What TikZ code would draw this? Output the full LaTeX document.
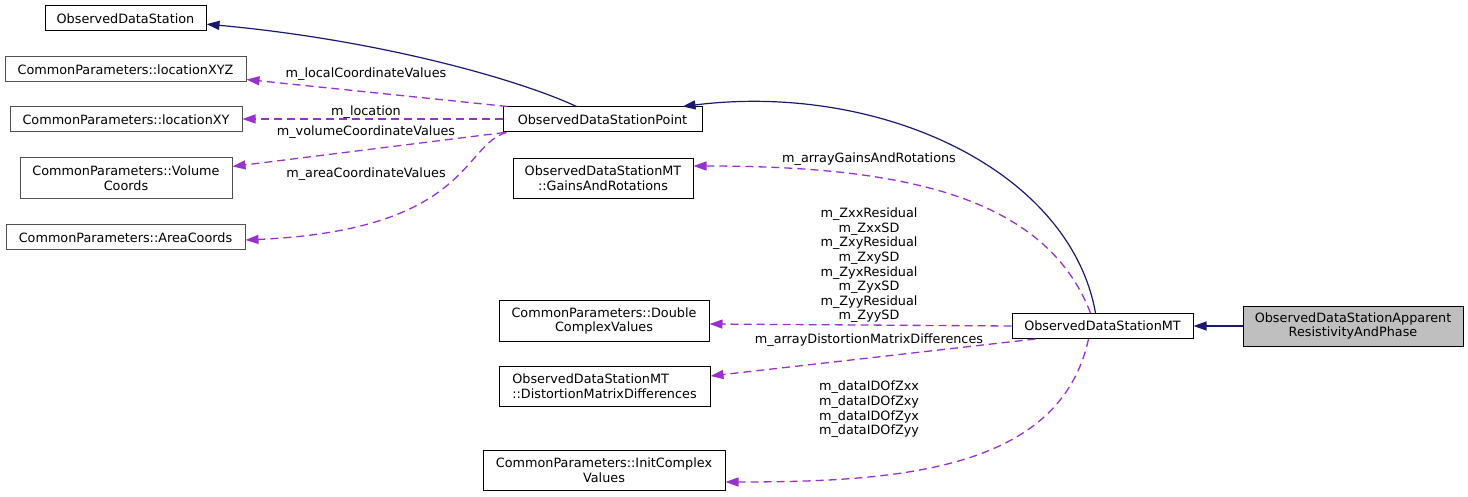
\documentclass[tikz,border=0pt]{standalone}
\usepackage{fontspec}
\setmainfont{DejaVu Sans}
\usepackage{xcolor}
\usepackage{tikz}
\usetikzlibrary{arrows.meta, positioning}
\definecolor{edgenavy}{RGB}{25,25,112}
\definecolor{edgeorchid}{RGB}{153,50,204}
\definecolor{boxgrey}{RGB}{191,191,191}
\definecolor{framegrey}{RGB}{80,80,80}
\newcommand{\graphfont}{\fontsize{12.8}{14.6}\selectfont}
\tikzset{
  cls/.style={rectangle, draw=black, fill=white, align=center,
    minimum height=25pt, inner sep=0pt, line width=1pt, font=\graphfont},
  ext/.style={cls, draw=framegrey},
  inherit/.style={-{Triangle[length=13pt, width=9pt]}, line width=1.2pt, color=edgenavy},
  usage/.style={-{Triangle[length=13pt, width=9pt]}, line width=1.3pt, color=edgeorchid,
    dash pattern=on 8pt off 5pt},
  lbl/.style={font=\graphfont, align=center, inner sep=0pt}
}
\begin{document}
\begin{tikzpicture}[x=1pt, y=-1pt]
  \useasboundingbox (0,0) rectangle (1468,497);

  % Station classes
  \node[cls, minimum width=161pt] (ods) at (125.5,18.5) {ObservedDataStation};
  \node[cls, minimum width=199pt] (pt) at (602.5,119.5) {ObservedDataStationPoint};
  \node[cls, minimum width=181pt] (mt) at (1102.5,326) {ObservedDataStationMT};
  \node[cls, fill=boxgrey, minimum width=220pt, minimum height=40pt] (app) at (1353,326) {ObservedDataStationApparent\\ResistivityAndPhase};

  % Members of the point station
  \node[ext, minimum width=241pt] (xyz) at (125.5,69.5) {CommonParameters::locationXYZ};
  \node[ext, minimum width=232pt] (xy) at (126,119.5) {CommonParameters::locationXY};
  \node[ext, minimum width=212pt, minimum height=41pt] (vol) at (126,178.5) {CommonParameters::Volume\\Coords};
  \node[ext, minimum width=239pt] (area) at (125.5,237.5) {CommonParameters::AreaCoords};

  % Members of the MT station
  \node[cls, minimum width=180pt, minimum height=40pt] (gains) at (603,178.5) {ObservedDataStationMT\\::GainsAndRotations};
  \node[cls, minimum width=210pt, minimum height=40pt] (dbl) at (604,321) {CommonParameters::Double\\ComplexValues};
  \node[cls, minimum width=211pt, minimum height=40pt, align=left] (dist) at (604.5,386) {ObservedDataStationMT\\::DistortionMatrixDifferences};
  \node[cls, minimum width=242pt, minimum height=40pt] (init) at (604,470.5) {CommonParameters::InitComplex\\Values};

  % Inheritance
  \draw[inherit] ([xshift=-26]pt.north) .. controls (520,80) and (380,40) .. (ods.-4);
  \draw[inherit] ([xshift=-7]mt.north) .. controls (1070,170) and (880,82) .. ([xshift=80]pt.north);
  \draw[inherit] (app.west) -- (mt.east);

  % Usage by the point station
  \draw[usage] ([xshift=5]pt.north west) -- ([yshift=-10]xyz.east);
  \draw[usage] ([yshift=0.5]pt.west) -- ([yshift=0.5]xy.east);
  \draw[usage] ([xshift=2]pt.south west) -- ([yshift=12]vol.east);
  \draw[usage] ([xshift=4]pt.south west) .. controls (462,145) and (470,230) .. ([yshift=-2.5]area.east);
  \node[lbl] (lLocal) at (366,74) {m\_localCoordinateValues};
  \node[lbl] (lLoc) at (366,112) {m\_location};
  \node[lbl] (lVol) at (366,132) {m\_volumeCoordinateValues};
  \node[lbl] (lArea) at (366,174) {m\_areaCoordinateValues};

  % Usage by the MT station
  \draw[usage] ([xshift=-12]mt.north) .. controls (1045,195) and (900,166) .. ([yshift=12.5]gains.east);
  \draw[usage] (mt.west) -- ([yshift=-3]dbl.east);
  \draw[usage] ([xshift=-67]mt.south) -- ([yshift=10]dist.east);
  \draw[usage] ([xshift=-14]mt.south) .. controls (1060,470) and (900,482) .. ([yshift=-11.5]init.east);
  \node[lbl] (lGains) at (869,159) {m\_arrayGainsAndRotations};
  \node[lbl] (lResid) at (869,265.5) {m\_ZxxResidual\\m\_ZxxSD\\m\_ZxyResidual\\m\_ZxySD\\m\_ZyxResidual\\m\_ZyxSD\\m\_ZyyResidual\\m\_ZyySD};
  \node[lbl] (lDist) at (869,340) {m\_arrayDistortionMatrixDifferences};
  \node[lbl] (lData) at (869,409.5) {m\_dataIDOfZxx\\m\_dataIDOfZxy\\m\_dataIDOfZyx\\m\_dataIDOfZyy};
\end{tikzpicture}
\end{document}
